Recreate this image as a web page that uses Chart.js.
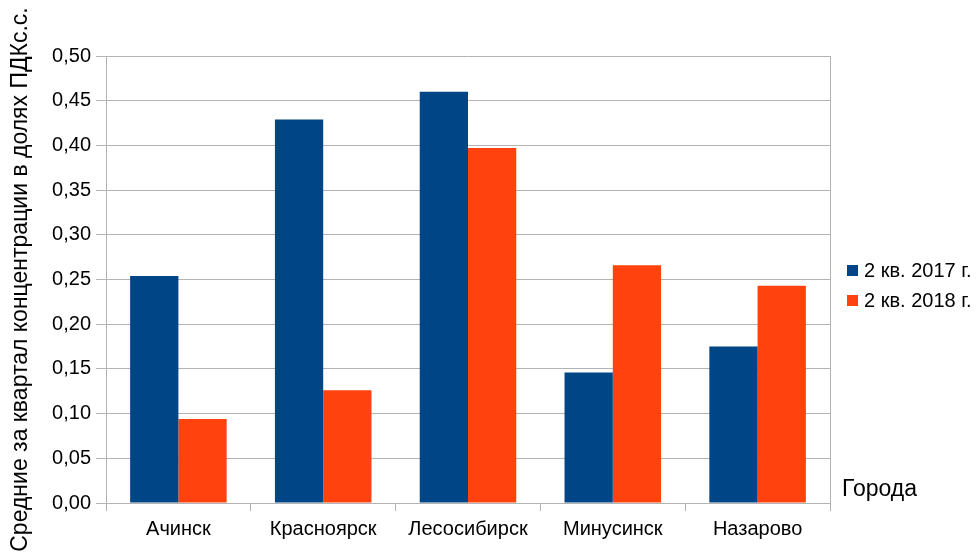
<!DOCTYPE html>
<html lang="ru">
<head>
<meta charset="utf-8">
<title>Средние за квартал концентрации в долях ПДКс.с.</title>
<script src="https://cdn.jsdelivr.net/npm/chart.js@4.4.1/dist/chart.umd.min.js"></script>
<style>
  html, body { margin: 0; padding: 0; background: #ffffff; }
  #wrap { width: 977px; height: 554px; }
</style>
</head>
<body>
<div id="wrap"><canvas id="chart" width="977" height="554"></canvas></div>
<script>
// Города и средние значения за 2 квартал
const cities = ['Ачинск', 'Красноярск', 'Лесосибирск', 'Минусинск', 'Назарово'];
const q2of2017 = [0.254, 0.429, 0.460, 0.146, 0.175];
const q2of2018 = [0.094, 0.126, 0.397, 0.266, 0.243];
const seriesNames = ['2 кв. 2017 г.', '2 кв. 2018 г.'];
const yTitle = 'Средние за квартал концентрации в долях ПДКс.с.';
const xTitle = 'Города';

const FONT = 'Liberation Sans, Arial, sans-serif';
const GRID = '#b3b3b3';
const TEXT = '#000000';

// Рамка справа, легенда и подпись оси категорий
const decorations = {
  id: 'decorations',
  afterDraw(chart) {
    const { ctx, chartArea } = chart;
    ctx.save();
    ctx.strokeStyle = GRID;
    ctx.lineWidth = 1;
    ctx.beginPath();
    ctx.moveTo(Math.round(chartArea.right) + 0.5, chartArea.top);
    ctx.lineTo(Math.round(chartArea.right) + 0.5, chartArea.bottom);
    ctx.stroke();

    ctx.font = '20px ' + FONT;
    ctx.textBaseline = 'middle';
    ctx.textAlign = 'left';
    chart.data.datasets.forEach((ds, i) => {
      const cy = 271 + i * 30;
      ctx.fillStyle = ds.backgroundColor;
      ctx.fillRect(847, cy - 6, 11, 11);
      ctx.fillStyle = TEXT;
      ctx.fillText(ds.label, 864, cy);
    });

    ctx.font = '23px ' + FONT;
    ctx.fillStyle = TEXT;
    ctx.fillText(xTitle, 842, 490);
    ctx.restore();
  }
};

new Chart(document.getElementById('chart'), {
  type: 'bar',
  data: {
    labels: cities,
    datasets: [
      { label: seriesNames[0], data: q2of2017, backgroundColor: '#004586' },
      { label: seriesNames[1], data: q2of2018, backgroundColor: '#ff420e' }
    ]
  },
  options: {
    responsive: false,
    animation: false,
    devicePixelRatio: 1,
    layout: { padding: { top: 56, right: 147, left: 0, bottom: 0 } },
    datasets: { bar: { categoryPercentage: 2 / 3, barPercentage: 1 } },
    plugins: {
      legend: { display: false },
      tooltip: { enabled: false }
    },
    scales: {
      x: {
        afterFit(scale) { scale.height = 51; },
        grid: { drawOnChartArea: false, drawTicks: true, tickLength: 8, color: GRID, offset: true },
        border: { color: GRID },
        ticks: { color: TEXT, font: { family: FONT, size: 20 }, padding: 6, maxRotation: 0 }
      },
      y: {
        min: 0,
        max: 0.5,
        afterFit(scale) { scale.width = 106; },
        grid: { color: GRID, tickLength: 10 },
        border: { color: GRID },
        ticks: {
          stepSize: 0.05,
          color: TEXT,
          font: { family: FONT, size: 20 },
          padding: 5,
          callback: (v) => Number(v).toFixed(2).replace('.', ',')
        },
        title: {
          display: true,
          text: yTitle,
          color: TEXT,
          font: { family: FONT, size: 23 },
          padding: { top: 7, bottom: 0 }
        }
      }
    }
  },
  plugins: [decorations]
});
</script>
</body>
</html>
